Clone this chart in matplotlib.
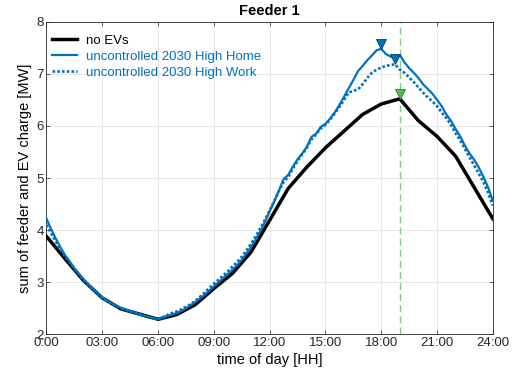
import numpy as np
import matplotlib
matplotlib.use("Agg")
import matplotlib.pyplot as plt

# ── Datos ──────────────────────────────────────────────────────────────────────
hours_hourly = np.arange(0, 25)
no_evs = [3.88, 3.45, 3.03, 2.70, 2.49, 2.39, 2.29, 2.38, 2.57, 2.88, 3.17, 3.58,
          4.19, 4.80, 5.21, 5.58, 5.90, 6.22, 6.42, 6.52, 6.10, 5.80, 5.42, 4.82, 4.22]

hours_15min = np.arange(0, 97) * 0.25
high_home = [
    4.22, 4.02, 3.84, 3.67, 3.52, 3.40, 3.27, 3.16, 3.06, 2.96, 2.87, 2.79,
    2.71, 2.65, 2.60, 2.55, 2.51, 2.48, 2.45, 2.42, 2.39, 2.36, 2.34, 2.31,
    2.29, 2.32, 2.35, 2.38, 2.41, 2.45, 2.50, 2.56, 2.62, 2.69, 2.76, 2.84,
    2.92, 3.00, 3.08, 3.16, 3.24, 3.33, 3.43, 3.55, 3.68, 3.82, 3.98, 4.16,
    4.36, 4.55, 4.76, 4.98, 5.06, 5.22, 5.36, 5.47, 5.60, 5.79, 5.85, 5.98,
    6.04, 6.14, 6.26, 6.40, 6.56, 6.72, 6.88, 7.05, 7.15, 7.26, 7.35, 7.45,
    7.48, 7.38, 7.33, 7.30, 7.36, 7.22, 7.11, 7.02, 6.92, 6.80, 6.71, 6.62,
    6.50, 6.38, 6.22, 6.10, 5.94, 5.80, 5.62, 5.47, 5.35, 5.20, 5.02, 4.82,
    4.57]
high_work = [
    4.10, 3.94, 3.78, 3.63, 3.50, 3.38, 3.26, 3.15, 3.04, 2.95, 2.86, 2.78,
    2.70, 2.64, 2.59, 2.54, 2.50, 2.47, 2.44, 2.41, 2.38, 2.35, 2.33, 2.31,
    2.30, 2.33, 2.37, 2.41, 2.44, 2.48, 2.53, 2.58, 2.64, 2.72, 2.80, 2.89,
    2.97, 3.05, 3.13, 3.21, 3.30, 3.39, 3.49, 3.61, 3.74, 3.88, 4.04, 4.20,
    4.38, 4.56, 4.75, 4.92, 5.02, 5.18, 5.33, 5.45, 5.58, 5.74, 5.84, 5.95,
    6.02, 6.12, 6.24, 6.36, 6.50, 6.64, 6.67, 6.70, 6.80, 6.92, 7.02, 7.08,
    7.12, 7.15, 7.17, 7.18, 7.08, 7.02, 6.93, 6.84, 6.74, 6.64, 6.55, 6.47,
    6.38, 6.26, 6.15, 6.02, 5.86, 5.72, 5.56, 5.40, 5.24, 5.08, 4.92, 4.72,
    4.47]

xtick_hours = [0, 3, 6, 9, 12, 15, 18, 21, 24]
xtick_labels = ["0:00", "03:00", "06:00", "09:00", "12:00", "15:00", "18:00", "21:00", "24:00"]
peak_line_hour = 19

# ── Estilo ─────────────────────────────────────────────────────────────────────
BLUE = "#0072BD"
GREEN = "#4DBE4D"
plt.rcParams.update({
    "font.family": ["Liberation Sans", "DejaVu Sans"],
    "font.size": 9.5,
    "xtick.direction": "in",
    "ytick.direction": "in",
    "xtick.top": True,
    "ytick.right": True,
    "axes.edgecolor": "#262626",
    "axes.linewidth": 0.6,
    "xtick.color": "#262626",
    "ytick.color": "#262626",
})

fig = plt.figure(figsize=(5.13, 3.80), dpi=100)
ax = fig.add_axes([0.0906, 0.120, 0.870, 0.823])

ax.plot(hours_hourly, no_evs, color="black", lw=2.5, label="no EVs", zorder=3)
ax.plot(hours_15min, high_home, color=BLUE, lw=1.6,
        label="uncontrolled 2030 High Home", zorder=3)
ax.plot(hours_15min, high_work, color=BLUE, lw=1.9, ls=(0, (1, 0.8)),
        label="uncontrolled 2030 High Work", zorder=3)

ax.axvline(peak_line_hour, color="#7FCF7F", lw=1.0, ls=(0, (5, 3)), zorder=2)

# marcadores de pico
off = 0.1
for xs, ys, fc, ec in [(hours_15min, high_home, BLUE, "#00406B"),
                       (hours_15min, high_work, BLUE, "#00406B"),
                       (hours_hourly, no_evs, GREEN, "#2E7D32")]:
    i = int(np.argmax(ys))
    ax.plot(xs[i], ys[i] + off, marker="v", ms=7, mfc=fc, mec=ec, mew=0.6,
            zorder=5)

ax.set_xlim(0, 24)
ax.set_ylim(2, 8)
ax.set_xticks(xtick_hours)
ax.set_xticklabels(xtick_labels)
ax.set_yticks(range(2, 9))
ax.tick_params(length=3, width=0.5, pad=2, labelsize=9.5)
ax.grid(True, color="#E3E3E3", lw=0.6, zorder=0)
ax.set_axisbelow(True)

ax.set_xlabel("time of day [HH]", fontsize=10.5, labelpad=3)
ax.set_ylabel("sum of feeder and EV charge [MW]", fontsize=10.5, labelpad=3)
ax.set_title("Feeder 1", fontsize=10.5, fontweight="bold", pad=5)

ax.legend(loc="upper left", bbox_to_anchor=(-0.005, 0.985), frameon=False,
          fontsize=9.5, handlelength=1.9, handletextpad=0.7, labelspacing=0.3,
          borderaxespad=0.2, labelcolor=["black", BLUE, BLUE])

fig.savefig("out.png", dpi=100)
